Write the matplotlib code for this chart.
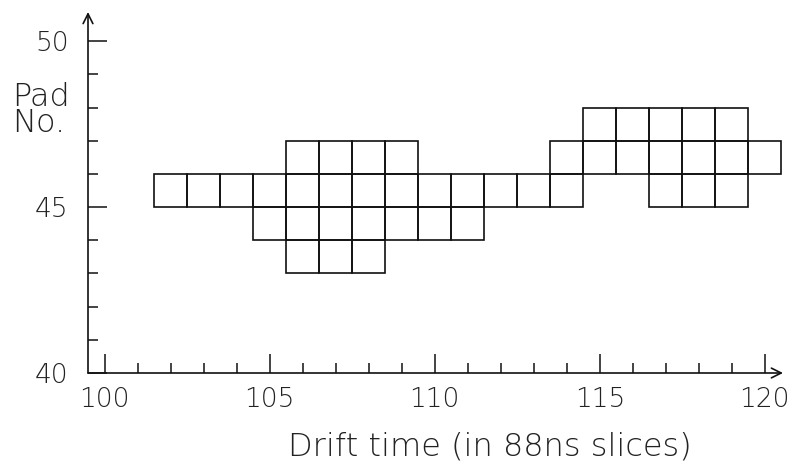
import matplotlib
matplotlib.use("Agg")
import matplotlib.pyplot as plt
from matplotlib.patches import Rectangle
from matplotlib.ticker import MultipleLocator

# hit cells: drift time slice and pad number of each fired cell
hit_slice = [102, 103, 104,
             105, 105,
             106, 106, 106, 106,
             107, 107, 107, 107,
             108, 108, 108, 108,
             109, 109, 109,
             110, 110,
             111, 111,
             112, 113,
             114, 114,
             115, 115,
             116, 116,
             117, 117, 117,
             118, 118, 118,
             119, 119, 119,
             120]
hit_pad = [45, 45, 45,
           44, 45,
           43, 44, 45, 46,
           43, 44, 45, 46,
           43, 44, 45, 46,
           44, 45, 46,
           44, 45,
           44, 45,
           45, 45,
           45, 46,
           46, 47,
           46, 47,
           45, 46, 47,
           45, 46, 47,
           45, 46, 47,
           46]

x_range = (99.5, 120.55)
y_range = (40, 50.88)
x_major = [100, 105, 110, 115, 120]
y_major = [40, 45, 50]

plt.rcParams['font.family'] = ['DejaVu Sans']
text_color = '#222222'

fig = plt.figure(figsize=(7.94, 4.66), dpi=100)
ax = fig.add_axes([88 / 794, 93 / 466, (783 - 88) / 794, (454 - 93) / 466])

for t, p in zip(hit_slice, hit_pad):
    ax.add_patch(Rectangle((t - 0.5, p), 1, 1, facecolor='none',
                           edgecolor='#111111', linewidth=1.2))

ax.set_xlim(*x_range)
ax.set_ylim(*y_range)

for side in ['top', 'right', 'left', 'bottom']:
    ax.spines[side].set_visible(False)

# axis lines with open arrow heads
arrow = dict(arrowstyle='->,head_length=0.5,head_width=0.25', lw=1.2,
             color='#111111', mutation_scale=14, shrinkA=0, shrinkB=0)
ax.annotate('', xy=(1, 0), xytext=(0, 0), xycoords='axes fraction',
            arrowprops=arrow, annotation_clip=False)
ax.annotate('', xy=(0, 1), xytext=(0, 0), xycoords='axes fraction',
            arrowprops=arrow, annotation_clip=False)

ax.set_xticks(x_major)
ax.set_yticks(y_major)
ax.xaxis.set_minor_locator(MultipleLocator(1))
ax.yaxis.set_minor_locator(MultipleLocator(1))
ax.tick_params(which='both', direction='in', top=False, right=False,
               width=1.1, color='#111111')
ax.tick_params(which='major', length=14)
ax.tick_params(which='minor', length=7)
ax.tick_params(axis='x', which='major', pad=10)
ax.tick_params(axis='y', which='major', pad=14)
for lab in ax.get_xticklabels() + ax.get_yticklabels():
    lab.set_fontsize(19)
    lab.set_fontweight('light')
    lab.set_color(text_color)

fig.text(12 / 794, 1 - 110 / 466, 'Pad\nNo.', ha='left', va='center',
         linespacing=0.8, fontsize=23, fontweight='light', color=text_color)
fig.text(490 / 794, 1 - 446 / 466, 'Drift time (in 88ns slices)',
         ha='center', va='center', fontsize=23, fontweight='light',
         color=text_color)

fig.savefig('out.png', dpi=100)
